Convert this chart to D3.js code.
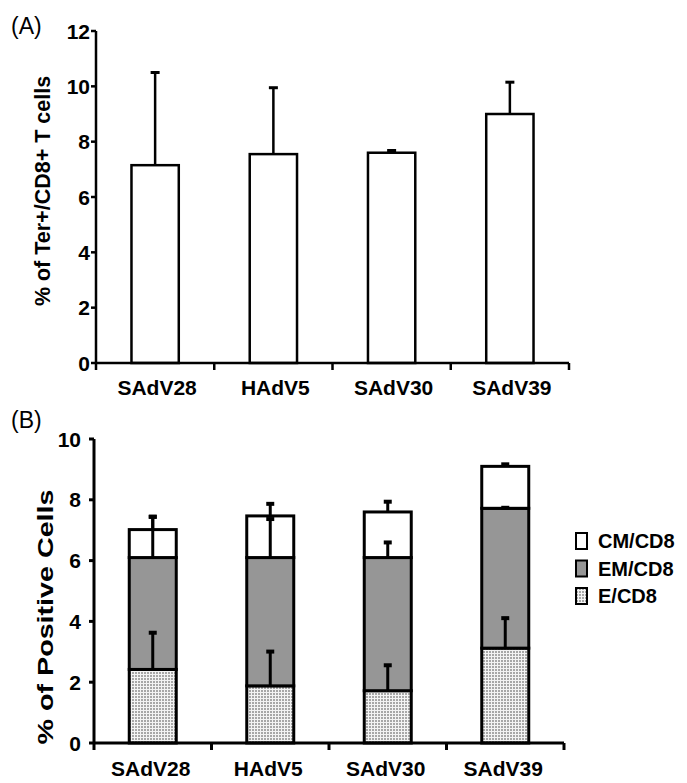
<!DOCTYPE html>
<html>
<head>
<meta charset="utf-8">
<script src="https://cdn.jsdelivr.net/npm/d3@7"></script>
<style>
  html, body { margin: 0; padding: 0; background: #fff; }
  svg { display: block; }
  text { font-family: "Liberation Sans", Arial, sans-serif; fill: #000; }
</style>
</head>
<body>
<script>
// ---------- DATA ----------
const categories = ["SAdV28", "HAdV5", "SAdV30", "SAdV39"];

// Panel A: % of Ter+/CD8+ T cells
const terValues = [7.15, 7.55, 7.6, 9.0];
const terErrors = [3.35, 2.4, 0.08, 1.15];
const ticksA = [0, 2, 4, 6, 8, 10, 12];

// Panel B: stacked % of positive cells
const seriesNames = ["E/CD8", "EM/CD8", "CM/CD8"];
const eValues  = [2.42, 1.88, 1.72, 3.12];
const emValues = [3.68, 4.22, 4.38, 4.60];
const cmValues = [0.92, 1.37, 1.50, 1.38];
const eErrors  = [1.24, 1.16, 0.87, 1.02];
const emErrors = [1.38, 1.30, 0.53, 0.05];
const cmErrors = [0.45, 0.43, 0.37, 0.10];
const ticksB = [0, 2, 4, 6, 8, 10];
const legendOrder = ["CM/CD8", "EM/CD8", "E/CD8"];

// ---------- SVG ----------
const W = 687, H = 783;
const svg = d3.select("body").append("svg").attr("width", W).attr("height", H);

const defs = svg.append("defs");
const pat = defs.append("pattern").attr("id", "stipple")
  .attr("patternUnits", "userSpaceOnUse").attr("width", 3).attr("height", 3);
pat.append("rect").attr("width", 3).attr("height", 3).attr("fill", "#f4f4f4");
pat.append("rect").attr("width", 2).attr("height", 2).attr("fill", "#a8a8a8");

const fills = { "E/CD8": "url(#stipple)", "EM/CD8": "#969696", "CM/CD8": "#ffffff" };

function drawAxes(g, y, ticks, tickStep, x0, x1, y0, yTop, sw, labelGap, fs) {
  g.append("line").attr("x1", x0).attr("x2", x0).attr("y1", yTop).attr("y2", y0 + 7)
    .attr("stroke", "#000").attr("stroke-width", sw);
  ticks.forEach(t => {
    g.append("line").attr("x1", x0 - 5).attr("x2", x0).attr("y1", y(t)).attr("y2", y(t))
      .attr("stroke", "#000").attr("stroke-width", sw);
    g.append("text").attr("x", x0 - labelGap).attr("y", y(t)).attr("dy", "0.36em")
      .attr("text-anchor", "end").attr("font-size", fs).attr("font-weight", "bold").text(t);
  });
  g.append("line").attr("x1", x0).attr("x2", x1).attr("y1", y0).attr("y2", y0)
    .attr("stroke", "#000").attr("stroke-width", sw);
  for (let i = 1; i <= categories.length; i++) {
    const bx = x0 + i * tickStep;
    g.append("line").attr("x1", bx).attr("x2", bx).attr("y1", y0).attr("y2", y0 + 7)
      .attr("stroke", "#000").attr("stroke-width", sw);
  }
}

// ---------- PANEL A ----------
{
  const x0 = 96, x1 = 569, y0 = 363, yTop = 31;
  const g = svg.append("g");
  const x = d3.scaleBand().domain(categories).range([x0, x1]).paddingInner(0.6).paddingOuter(0.3);
  const y = d3.scaleLinear().domain([0, 12]).range([y0, yTop]);

  g.append("text").attr("x", 11).attr("y", 34).attr("font-size", 23).text("(A)");

  g.selectAll("rect.bar").data(categories).join("rect")
    .attr("x", d => x(d)).attr("width", x.bandwidth())
    .attr("y", (d, i) => y(terValues[i]))
    .attr("height", (d, i) => y(0) - y(terValues[i]))
    .attr("fill", "#fff").attr("stroke", "#000").attr("stroke-width", 2.5);

  categories.forEach((c, i) => {
    const cx = x(c) + x.bandwidth() / 2;
    const top = y(terValues[i] + terErrors[i]);
    g.append("line").attr("x1", cx).attr("x2", cx).attr("y1", y(terValues[i])).attr("y2", top)
      .attr("stroke", "#000").attr("stroke-width", 2.5);
    g.append("line").attr("x1", cx - 4.5).attr("x2", cx + 4.5).attr("y1", top).attr("y2", top)
      .attr("stroke", "#000").attr("stroke-width", 3);
  });

  drawAxes(g, y, ticksA, x.step(), x0, x1, y0, yTop, 2.5, 6, 21);

  categories.forEach(c => {
    g.append("text").attr("x", x(c) + x.bandwidth() / 2 + 2).attr("y", y0 + 32)
      .attr("text-anchor", "middle").attr("font-size", 21).attr("font-weight", "bold").text(c);
  });

  g.append("text").attr("transform", "translate(50,191) rotate(-90)")
    .attr("text-anchor", "middle").attr("font-size", 21.5).attr("font-weight", "bold")
    .text("% of Ter+/CD8+ T cells");
}

// ---------- PANEL B ----------
{
  const x0 = 94, x1 = 564, y0 = 743, yTop = 439;
  const g = svg.append("g");
  const x = d3.scaleBand().domain(categories).range([x0, x1]).paddingInner(0.6).paddingOuter(0.3);
  const y = d3.scaleLinear().domain([0, 10]).range([y0, yTop]);

  g.append("text").attr("x", 11).attr("y", 428).attr("font-size", 23).text("(B)");

  const table = categories.map((c, i) => ({
    cat: c, "E/CD8": eValues[i], "EM/CD8": emValues[i], "CM/CD8": cmValues[i]
  }));
  const errs = { "E/CD8": eErrors, "EM/CD8": emErrors, "CM/CD8": cmErrors };
  const stacked = d3.stack().keys(seriesNames)(table);

  stacked.forEach(layer => {
    g.selectAll(null).data(layer).join("rect")
      .attr("x", d => x(d.data.cat)).attr("width", x.bandwidth())
      .attr("y", d => y(d[1])).attr("height", d => y(d[0]) - y(d[1]))
      .attr("fill", fills[layer.key]).attr("stroke", "#000").attr("stroke-width", 3);
  });

  stacked.forEach(layer => {
    layer.forEach((d, i) => {
      const cx = x(d.data.cat) + x.bandwidth() / 2;
      const top = y(d[1] + errs[layer.key][i]);
      g.append("line").attr("x1", cx).attr("x2", cx).attr("y1", y(d[1])).attr("y2", top)
        .attr("stroke", "#000").attr("stroke-width", 3);
      g.append("line").attr("x1", cx - 4).attr("x2", cx + 4).attr("y1", top + 1).attr("y2", top + 1)
        .attr("stroke", "#000").attr("stroke-width", 4);
    });
  });

  drawAxes(g, y, ticksB, x.step(), x0, x1, y0, yTop, 3, 13, 21);

  categories.forEach(c => {
    g.append("text").attr("x", x(c) + x.bandwidth() / 2 - 2).attr("y", y0 + 33)
      .attr("text-anchor", "middle").attr("font-size", 21).attr("font-weight", "bold").text(c);
  });

  g.append("text").attr("transform", "translate(53,617) rotate(-90)")
    .attr("text-anchor", "middle").attr("font-size", 22).attr("font-weight", "bold")
    .attr("textLength", 255).attr("lengthAdjust", "spacingAndGlyphs")
    .text("% of Positive Cells");

  const lg = g.append("g").attr("transform", "translate(576,533)");
  legendOrder.forEach((name, i) => {
    const row = lg.append("g").attr("transform", `translate(0,${i * 27.5})`);
    row.append("rect").attr("x", 0).attr("y", 0).attr("width", 11).attr("height", 16)
      .attr("fill", fills[name]).attr("stroke", "#000").attr("stroke-width", 2);
    row.append("text").attr("x", 22).attr("y", 8).attr("dy", "0.36em")
      .attr("font-size", 20).attr("font-weight", "bold").text(name);
  });
}
</script>
</body>
</html>
